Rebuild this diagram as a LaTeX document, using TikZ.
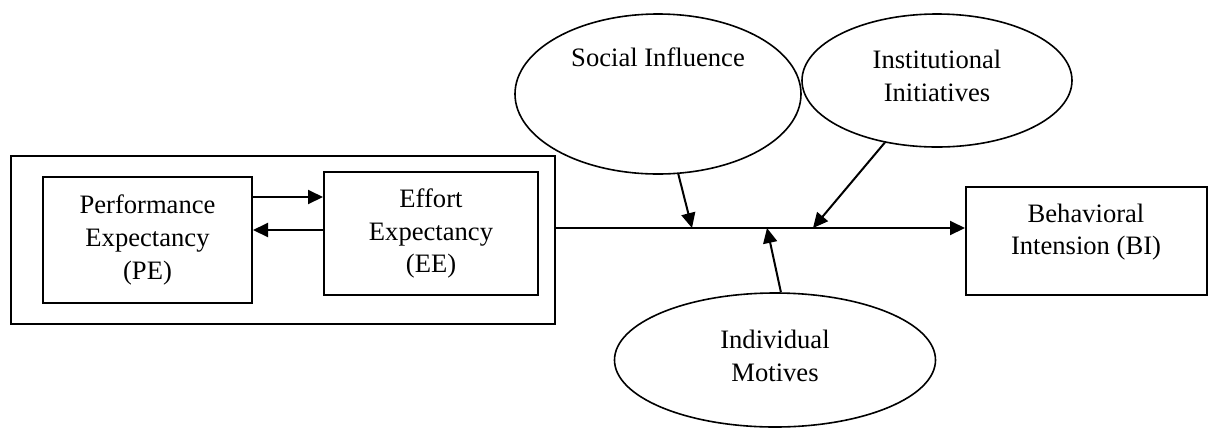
\documentclass[tikz,border=0pt]{standalone}
\usepackage{fontspec}
\setmainfont{Liberation Serif}
\usetikzlibrary{arrows.meta,shapes.geometric}
\tikzset{model/.style={
  x=0.5pt,y=-0.5pt,
  >={Triangle[length=7.5pt,width=7pt]},line join=miter,
  font=\fontsize{13.3pt}{16.3pt}\selectfont
},
box/.style={draw,line width=1pt,inner sep=0pt,anchor=north west,align=center},
oval/.style={draw,ellipse,line width=0.8pt,inner sep=0pt},
arr/.style={->,line width=1pt}
}

\begin{document}
\begin{tikzpicture}[model]
  \useasboundingbox (0,0) rectangle (1211,430);
  \node[box,minimum width=272pt,minimum height=84pt] (outer) at (10,155) {};
  \node[box,minimum width=104.5pt,minimum height=63pt] (pe) at (42,176) {Performance\\Expectancy\\(PE)};
  \node[box,minimum width=107pt,minimum height=61.5pt] (ee) at (323,171) {Effort\\Expectancy\\(EE)};
  \node[box,minimum width=120.5pt,minimum height=54pt] (bi) at (965,186) {};
  \node[align=center] (bi-txt) at (1086,232) {Behavioral\\Intension (BI)};
  \node[oval,minimum width=143pt,minimum height=80pt] (si) at (658,94) {};
  \node (si-txt) at (658,57) {Social Influence};
  \node[oval,minimum width=135pt,minimum height=66.5pt] (ii) at (937,80.5) {};
  \node[align=center] (ii-txt) at (937,76) {Institutional\\Initiatives};
  \node[oval,minimum width=160.5pt,minimum height=67pt] (im) at (775,360) {};
  \node[align=center] (im-txt) at (775,356) {Individual\\Motives};
  \coordinate (pe-hi) at ([yshift=21.5pt]pe.east);
  \coordinate (pe-lo) at ([yshift=5pt]pe.east);
  \coordinate (si-in) at (692,228);
  \coordinate (ii-in) at (813,228);
  \coordinate (im-in) at (767,228);
  \draw[arr] (pe-hi) -- (pe-hi -| ee.west);
  \draw[arr] (pe-lo -| ee.west) -- (pe-lo);
  \draw[arr] (outer.east |- si-in) -- (bi.west |- si-in);
  \draw[arr] (si) -- (si-in);
  \draw[arr] (ii) -- (ii-in);
  \draw[arr] (im.85) -- (im-in);
\end{tikzpicture}
\end{document}
